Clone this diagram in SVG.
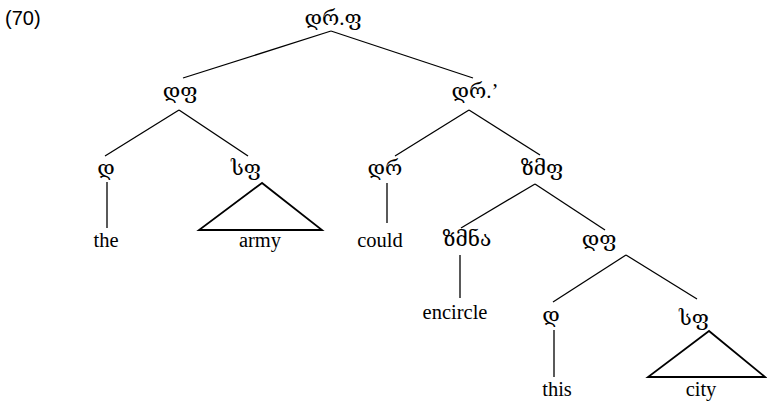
<svg xmlns="http://www.w3.org/2000/svg" width="767" height="401" viewBox="0 0 767 401">
<style>
  .lab { font-family: "Liberation Serif", "DejaVu Serif", "DejaVu Sans", serif; font-size: 21px; fill: #000; text-anchor: middle; }
  .word { font-family: "Liberation Serif", serif; font-size: 20.5px; fill: #000; text-anchor: middle; }
  .num { font-family: "Liberation Sans", Arial, sans-serif; font-size: 20px; fill: #000; }
  .br { stroke: #000; stroke-width: 1.3; fill: none; }
  .tri { stroke: #000; stroke-width: 1.8; fill: none; stroke-linejoin: miter; }
</style>
<rect width="767" height="401" fill="#fff"/>
<text class="num" x="5" y="25">(70)</text>
<g id="connectors">
  <line class="br" x1="331" y1="31" x2="183" y2="78"/>
  <line class="br" x1="331" y1="31" x2="473" y2="78"/>
  <line class="br" x1="179" y1="110" x2="105" y2="156"/>
  <line class="br" x1="179" y1="110" x2="248" y2="156"/>
  <line class="br" x1="107" y1="182" x2="107" y2="228"/>
  <line class="br" x1="469" y1="110" x2="395" y2="156"/>
  <line class="br" x1="469" y1="110" x2="540" y2="155"/>
  <line class="br" x1="387" y1="183" x2="387" y2="223"/>
  <line class="br" x1="535" y1="184" x2="461" y2="228"/>
  <line class="br" x1="535" y1="184" x2="605" y2="230"/>
  <line class="br" x1="460" y1="255" x2="460" y2="298"/>
  <line class="br" x1="626" y1="255" x2="553" y2="302"/>
  <line class="br" x1="626" y1="255" x2="697" y2="299"/>
  <line class="br" x1="554" y1="330" x2="554" y2="377"/>
  <polygon class="tri" points="262,183 199,230 322,230"/>
  <polygon class="tri" points="709,331 648,377 765,377"/>
</g>
<g id="n-root"><text class="lab" x="333" y="25">დრ.ფ</text></g>
<g id="n-df1"><text class="lab" x="180" y="98">დფ</text></g>
<g id="n-drp"><text class="lab" x="475" y="98">დრ.’</text></g>
<g id="n-d1"><text class="lab" x="106" y="175">დ</text></g>
<g id="n-sf1"><text class="lab" x="246" y="175">სფ</text></g>
<g id="n-dr"><text class="lab" x="385" y="175">დრ</text></g>
<g id="n-zmf"><text class="lab" x="542" y="175">ზმფ</text></g>
<g id="n-zmna"><text class="lab" x="467" y="246">ზმნა</text></g>
<g id="n-df2"><text class="lab" x="599" y="246">დფ</text></g>
<g id="n-d2"><text class="lab" x="551" y="322">დ</text></g>
<g id="n-sf2"><text class="lab" x="694" y="325">სფ</text></g>
<g id="w-the"><text class="word" x="106" y="247">the</text></g>
<g id="w-army"><text class="word" x="260" y="247">army</text></g>
<g id="w-could"><text class="word" x="380" y="247">could</text></g>
<g id="w-encircle"><text class="word" x="455" y="319">encircle</text></g>
<g id="w-this"><text class="word" x="557" y="396">this</text></g>
<g id="w-city"><text class="word" x="701" y="396">city</text></g>
</svg>
